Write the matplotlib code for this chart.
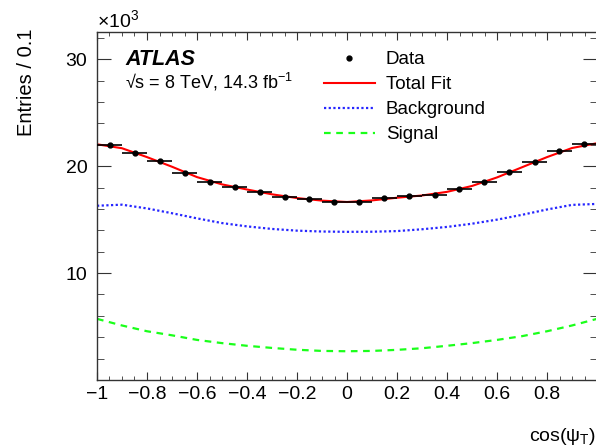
import numpy as np
import matplotlib
matplotlib.use("Agg")
import matplotlib.pyplot as plt
from matplotlib.lines import Line2D
from matplotlib.ticker import MultipleLocator

plt.rcParams['font.family'] = ['Liberation Sans', 'DejaVu Sans']
plt.rcParams['mathtext.fontset'] = 'custom'
plt.rcParams['mathtext.rm'] = 'Liberation Sans'
plt.rcParams['mathtext.it'] = 'Liberation Sans:italic'

# binned data (entries / 0.1, in units of 10^3)
bin_centers = np.arange(-0.95, 1.0, 0.1)
data_vals = [22.01, 21.23, 20.51, 19.36, 18.55, 18.08, 17.59, 17.15, 16.90, 16.68,
             16.62, 17.03, 17.18, 17.34, 17.87, 18.49, 19.49, 20.36, 21.38, 22.04]
data_err = [0.15] * 20

# fit components sampled every 0.1
curve_x = np.linspace(-1.0, 1.0, 21)
total_fit = [22.05, 21.68, 20.85, 19.95, 18.98, 18.30, 17.82, 17.37, 17.02, 16.78, 16.65,
             16.80, 17.05, 17.26, 17.60, 18.15, 18.95, 19.90, 20.85, 21.70, 22.15]
background = [16.30, 16.40, 16.05, 15.60, 15.12, 14.68, 14.37, 14.13, 13.97, 13.89, 13.86,
              13.87, 13.93, 14.10, 14.32, 14.62, 15.00, 15.45, 15.95, 16.38, 16.47]
signal = [5.72, 5.10, 4.56, 4.18, 3.75, 3.45, 3.20, 3.00, 2.83, 2.72, 2.69,
          2.72, 2.82, 2.97, 3.20, 3.45, 3.75, 4.10, 4.56, 5.10, 5.72]

red = (1, 0, 0)
blue = (0.15, 0.15, 1)
green = (0.1, 1, 0.1)
bkg_style = (0, (1, 1.1))
sig_style = (0, (3, 2.5))

W, H = 596, 447
fig = plt.figure(figsize=(W / 100, H / 100), dpi=100)
ax = fig.add_axes([97 / W, 1 - 380 / H, 500 / W, 348.5 / H])

ax.plot(curve_x, total_fit, color=red, lw=1.5, zorder=2)
ax.plot(curve_x, background, color=blue, lw=1.6, ls=bkg_style, zorder=2)
ax.plot(curve_x, signal, color=green, lw=1.6, ls=sig_style, zorder=2)
ax.errorbar(bin_centers, data_vals, xerr=0.05, yerr=data_err, fmt='o', color='black',
            ms=3.5, lw=1.2, capsize=0, zorder=3)

ax.set_xlim(-1.0, 1.0)
ax.set_ylim(0, 32.6)
ax.xaxis.set_minor_locator(MultipleLocator(0.05))
ax.yaxis.set_minor_locator(MultipleLocator(2))
ax.set_xticks(np.arange(-1.0, 0.99, 0.2))
ax.set_xticklabels(['\u22121', '\u22120.8', '\u22120.6', '\u22120.4', '\u22120.2',
                    '0', '0.2', '0.4', '0.6', '0.8'])
ax.set_yticks([10, 20, 30])
ax.tick_params(which='both', direction='in', top=True, right=True, labelsize=14, color='#333333')
ax.tick_params(axis='x', which='major', length=6, pad=4)
ax.tick_params(axis='x', which='minor', length=3)
ax.tick_params(axis='y', which='major', length=10, pad=7)
ax.tick_params(axis='y', which='minor', length=5)
for s in ax.spines.values():
    s.set_color('#333333')
    s.set_linewidth(1.0)

fig.text(97 / W, 1 - 27 / H, '\u00d710$^{3}$', fontsize=14, ha='left', va='baseline')
fig.text(27 / W, 1 - 28 / H, 'Entries / 0.1', fontsize=14.5, rotation=90, ha='center', va='top')
fig.text(529 / W, 1 - 441 / H, 'cos(\u03c8$_{\\rm T}$)', fontsize=14, ha='left', va='baseline')

ax.text(0.056, 0.921, 'ATLAS', transform=ax.transAxes, fontsize=15.5,
        fontweight='bold', fontstyle='italic', va='center')
ax.text(0.056, 0.855, '\u221as = 8 TeV, 14.3 fb$^{-1}$', transform=ax.transAxes,
        fontsize=13, va='center')

handles = [
    Line2D([], [], color='black', marker='o', ms=3.5, ls='none'),
    Line2D([], [], color=red, lw=1.5),
    Line2D([], [], color=blue, lw=1.6, ls=bkg_style),
    Line2D([], [], color=green, lw=1.6, ls=sig_style),
]
labels = ['Data', 'Total Fit', 'Background', 'Signal']
ax.legend(handles, labels, loc='upper left', bbox_to_anchor=(0.454, 0.944), frameon=False,
          fontsize=13.5, handlelength=2.7, handletextpad=0.6, labelspacing=0.42,
          borderpad=0, borderaxespad=0)

fig.savefig('out.png', dpi=100)
